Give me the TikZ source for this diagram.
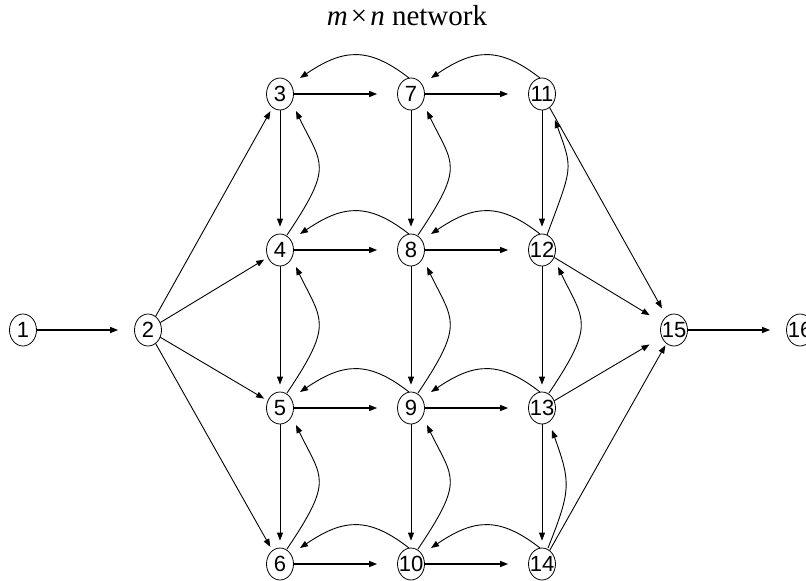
\documentclass[tikz,border=0pt]{standalone}
\usepackage{fontspec}
\setmainfont{Liberation Serif}
\newfontfamily\nodefont{Liberation Sans}
\usetikzlibrary{arrows.meta,shapes.geometric,calc}
\begin{document}
\begin{tikzpicture}[x=1pt,y=-1pt,
  vtx/.style={ellipse,draw,line width=0.8pt,minimum width=27pt,minimum height=32pt,inner sep=0pt,
              font=\nodefont\fontsize{22}{22}\selectfont},
  arr/.style={line width=0.9pt,-{Triangle[length=8pt,width=6pt]}},
  harr/.style={arr,line width=1.2pt,shorten >=20pt},
  varr/.style={arr,shorten >=7pt},
  darr/.style={arr,shorten >=4pt}]
\clip (0,0) rectangle (806,581);
% title
\node[anchor=base,font=\fontsize{29}{29}\selectfont] (title) at (407,25)
  {\textit{m}\hspace{3pt}×\hspace{3pt}\textit{n} network};
% nodes
\node[vtx] (n1) at (23,330) {\makebox[0pt]{1}};
\node[vtx] (n2) at (148,330) {\makebox[0pt]{2}};
\node[vtx] (n3) at (280,94) {\makebox[0pt]{3}};
\node[vtx] (n4) at (280,250) {\makebox[0pt]{4}};
\node[vtx] (n5) at (280,408) {\makebox[0pt]{5}};
\node[vtx] (n6) at (280,564) {\makebox[0pt]{6}};
\node[vtx] (n7) at (411,94) {\makebox[0pt]{7}};
\node[vtx] (n8) at (411,250) {\makebox[0pt]{8}};
\node[vtx] (n9) at (411,408) {\makebox[0pt]{9}};
\node[vtx] (n10) at (411,564) {\makebox[0pt]{10}};
\node[vtx] (n11) at (542,94) {\makebox[0pt]{11}};
\node[vtx] (n12) at (542,250) {\makebox[0pt]{12}};
\node[vtx] (n13) at (542,408) {\makebox[0pt]{13}};
\node[vtx] (n14) at (542,564) {\makebox[0pt]{14}};
\node[vtx] (n15) at (674,330) {\makebox[0pt]{15}};
\node[vtx] (n16) at (800,330) {\makebox[0pt]{16}};
% horizontal forward
\draw[harr,shorten >=16pt] (n1) -- (n2);
\draw[harr,shorten >=16pt] (n15) -- (n16);
\foreach \a/\b in {n3/n7,n7/n11,n4/n8,n8/n12,n5/n9,n9/n13,n6/n10,n10/n14}
  \draw[harr] (\a) -- (\b);
% vertical forward
\foreach \a/\b in {n3/n4,n4/n5,n5/n6,n7/n8,n8/n9,n9/n10,n11/n12,n12/n13,n13/n14}
  \draw[varr] (\a) -- (\b);
% diagonals
\foreach \b in {n3,n4,n5,n6}
  \draw[darr] (n2) -- (\b);
\draw[arr,shorten >=9pt] (n11) -- (n15);
\draw[arr,shorten >=14pt] (n12) -- (n15);
\draw[arr,shorten >=14pt] (n13) -- (n15);
\draw[arr,shorten >=2pt] (n14) -- (n15);
% horizontal back curves
\foreach \r/\l in {n7/n3,n11/n7,n8/n4,n12/n8,n9/n5,n13/n9,n10/n6,n14/n10}
  \draw[arr] ($(\r)+(-2,-16)$) .. controls ($(\r)+(-43,-48)$) and ($(\l)+(63,-45)$) .. ($(\l)+(20,-16)$);
% vertical back curves
\foreach \d/\u in {n4/n3,n5/n4,n6/n5,n8/n7,n9/n8,n10/n9,n13/n12}
  \draw[arr] ($(\d)+(7,-15)$) .. controls ($(\d)+(54,-85)$) and ($(\u)+(42,71)$) .. ($(\u)+(16,17)$);
\draw[arr] ($(n12)+(5,-15)$) .. controls ($(n12)+(31,-85)$) and ($(n11)+(31,76)$) .. ($(n11)+(13,26)$);
\draw[arr] ($(n14)+(6,-16)$) .. controls ($(n14)+(29,-74)$) and ($(n13)+(29,75)$) .. ($(n13)+(10,22)$);
\end{tikzpicture}
\end{document}
